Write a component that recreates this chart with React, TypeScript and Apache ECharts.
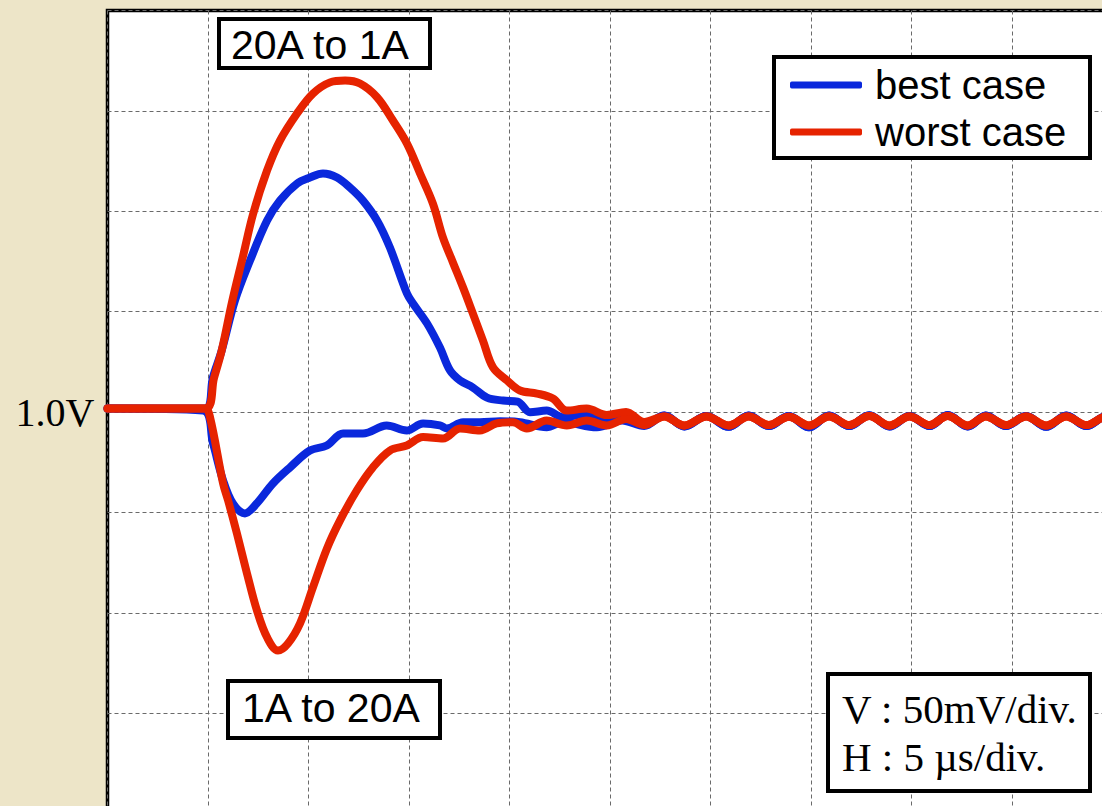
import React, { useEffect, useRef } from "react";
import * as echarts from "echarts";

// Axis ranges (time in µs, voltage in V)
const timeMin = 0;
const timeMax = 50;
const timeStep = 5; // 5 µs/div
const voltMin = 0.8;
const voltMax = 1.2;
const voltStep = 0.05; // 50 mV/div

const seriesNames = ["best case", "worst case"];

// best case, 20A -> 1A (overshoot)
const bestUpT = [0, 4.85, 5.25, 5.68, 6.34, 7.09, 7.94, 8.58, 9.43, 10.07, 10.72, 11.42, 12.06, 12.71, 13.41, 14.05, 14.9, 15.2, 15.9, 16.54, 17.04, 17.54, 18.18, 18.88, 19.68, 20.4, 21.02, 21.85, 22.66, 23.8, 24.84, 25.8, 26.7];
const bestUpV = [1.0017, 1.0017, 1.0175, 1.0306, 1.0555, 1.0754, 1.0954, 1.1053, 1.1138, 1.1168, 1.1188, 1.1168, 1.1118, 1.1053, 1.0954, 1.0819, 1.059, 1.054, 1.0441, 1.0321, 1.0207, 1.0157, 1.0122, 1.0072, 1.0057, 1.0052, 0.9999, 1.0007, 0.9974, 0.999, 0.995, 0.9985, 0.9935];

// best case, 1A -> 20A (undershoot)
const bestDownT = [0, 4.75, 5.25, 5.75, 6.24, 6.84, 7.42, 8.23, 9.08, 10.07, 10.91, 11.72, 12.71, 13.89, 14.89, 15.7, 16.54, 16.88, 17.69, 18.53, 19.53, 20.52, 21.85, 22.66, 24.35, 25.6, 26.7];
const bestDownV = [1.0017, 1.0007, 0.9843, 0.9659, 0.9544, 0.9495, 0.9544, 0.9644, 0.9724, 0.9808, 0.9833, 0.9893, 0.9893, 0.9933, 0.9908, 0.9943, 0.9933, 0.9918, 0.9949, 0.9949, 0.9954, 0.9949, 0.9924, 0.9949, 0.9924, 0.9958, 0.993];

// worst case, 20A -> 1A (overshoot)
const worstUpT = [0, 4.85, 5.3, 5.68, 6.2, 6.74, 7.24, 7.94, 8.58, 9.43, 10.22, 11.07, 11.82, 12.56, 13.41, 14.2, 14.9, 15.55, 16.19, 16.69, 17.19, 17.69, 18.18, 18.68, 19.18, 19.88, 20.52, 21.37, 22.16, 22.85, 23.84, 24.84, 25.8, 26.7];
const worstUpV = [1.0017, 1.0017, 1.017, 1.0306, 1.055, 1.0775, 1.0985, 1.1203, 1.1352, 1.1487, 1.1586, 1.1642, 1.1651, 1.1636, 1.1568, 1.1452, 1.1337, 1.1188, 1.1038, 1.0869, 1.0744, 1.062, 1.049, 1.0356, 1.0222, 1.0157, 1.0107, 1.0092, 1.0067, 1.0007, 1.0017, 0.9985, 1.0, 0.995];

// worst case, 1A -> 20A (undershoot)
const worstDownT = [0, 4.85, 5.1, 5.75, 6.0, 6.44, 6.94, 7.44, 7.94, 8.48, 8.98, 9.58, 10.22, 10.92, 11.57, 12.4, 13.21, 14.05, 14.89, 15.7, 16.69, 17.54, 18.53, 19.36, 20.17, 20.86, 21.85, 22.85, 23.84, 24.84, 25.8, 26.7];
const worstDownV = [1.0017, 1.0017, 0.9974, 0.9644, 0.9559, 0.9395, 0.9196, 0.901, 0.8877, 0.8812, 0.8847, 0.8947, 0.9126, 0.932, 0.946, 0.9609, 0.9725, 0.9808, 0.9833, 0.9875, 0.9868, 0.9918, 0.9908, 0.9943, 0.9949, 0.9918, 0.9958, 0.9933, 0.9958, 0.9933, 0.9965, 0.9935];

// settled ringing, shared by both transients of each case
const settledT = [27.7, 28.7, 29.8, 30.9, 31.9, 32.9, 33.9, 34.9, 35.9, 36.9, 37.9, 38.9, 39.9, 40.9, 41.8, 42.8, 43.7, 44.7, 45.7, 46.7, 47.7, 48.7, 49.7, 50.6];
const settledWorstV = [0.9978, 0.9933, 0.9978, 0.9933, 0.9978, 0.9935, 0.9976, 0.9933, 0.9978, 0.9935, 0.998, 0.9933, 0.9978, 0.9935, 0.998, 0.9933, 0.9978, 0.9935, 0.9978, 0.9933, 0.9978, 0.9935, 0.9978, 0.9935];
const settledBestV = [0.9982, 0.9928, 0.998, 0.9926, 0.9982, 0.993, 0.998, 0.9924, 0.9982, 0.993, 0.9984, 0.9928, 0.998, 0.993, 0.9985, 0.9928, 0.9982, 0.993, 0.998, 0.9926, 0.9982, 0.993, 0.998, 0.993];

const BLUE = "#0A28DC";
const RED = "#E62300";
const SANS = '"Liberation Sans", Arial, sans-serif';
const SERIF = '"Liberation Serif", "Times New Roman", serif';

function pairs(t: number[], v: number[]): number[][] {
  return t.map((x, i) => [x, v[i]]);
}

export default function App() {
  const ref = useRef<HTMLDivElement>(null);
  useEffect(() => {
    if (!ref.current) return;
    const chart = echarts.init(ref.current, undefined, { renderer: "svg" });
    const lineSeries = (name: string, color: string, t: number[], v: number[], st: number[], sv: number[]) => ({
      type: "line",
      name,
      data: pairs(t.concat(st), v.concat(sv)),
      symbol: "none",
      smooth: 0.35,
      lineStyle: { color, width: 8, cap: "round", join: "round" },
      itemStyle: { color },
      z: color === RED ? 3 : 2,
    });
    chart.setOption({
      animation: false,
      backgroundColor: "#EDE5C8",
      grid: {
        left: 107.5,
        top: 10.5,
        width: 1005,
        height: 803,
        show: true,
        backgroundColor: "#ffffff",
        borderColor: "#000000",
        borderWidth: 3.5,
      },
      xAxis: {
        type: "value",
        min: timeMin,
        max: timeMax,
        interval: timeStep,
        axisLine: { show: false },
        axisTick: { show: false },
        axisLabel: { show: false },
        splitLine: { show: true, lineStyle: { color: "#6a6a6a", width: 1, type: [4, 3] } },
      },
      yAxis: {
        type: "value",
        min: voltMin,
        max: voltMax,
        interval: voltStep,
        axisLine: { show: false },
        axisTick: { show: false },
        axisLabel: {
          show: true,
          margin: 13,
          color: "#000",
          fontFamily: SERIF,
          fontSize: 40,
          formatter: (val: number) => (Math.abs(val - 1) < 1e-6 ? "1.0V" : ""),
        },
        splitLine: { show: true, lineStyle: { color: "#6a6a6a", width: 1, type: [4, 3] } },
      },
      legend: {
        data: seriesNames,
        orient: "vertical",
        left: 790,
        top: 65,
        padding: 0,
        itemGap: 7,
        itemWidth: 72,
        itemHeight: 7,
        icon: "roundRect",
        z: 12,
        textStyle: { fontFamily: SANS, fontSize: 40, color: "#000", padding: [0, 0, 0, 8] },
      },
      graphic: [
        { type: "rect", z: 10, shape: { x: 774, y: 57, width: 316, height: 101 }, style: { fill: "#fff", stroke: "#000", lineWidth: 4 } },
        { type: "rect", z: 10, shape: { x: 219, y: 19, width: 211, height: 49 }, style: { fill: "#fff", stroke: "#000", lineWidth: 4 } },
        { type: "text", z: 11, x: 231, y: 45, style: { text: "20A to 1A", font: `41px ${SANS}`, fill: "#000", align: "left", verticalAlign: "middle" } },
        { type: "rect", z: 10, shape: { x: 228, y: 681, width: 212, height: 57 }, style: { fill: "#fff", stroke: "#000", lineWidth: 4 } },
        { type: "text", z: 11, x: 242, y: 708, style: { text: "1A to 20A", font: `41px ${SANS}`, fill: "#000", align: "left", verticalAlign: "middle" } },
        { type: "rect", z: 10, shape: { x: 828, y: 674, width: 262, height: 117 }, style: { fill: "#fff", stroke: "#000", lineWidth: 4 } },
        { type: "text", z: 11, x: 842, y: 709, style: { text: "V : 50mV/div.", font: `41px ${SERIF}`, fill: "#000", align: "left", verticalAlign: "middle" } },
        { type: "text", z: 11, x: 842, y: 757, style: { text: "H : 5 µs/div.", font: `41px ${SERIF}`, fill: "#000", align: "left", verticalAlign: "middle" } },
      ],
      series: [
        lineSeries(seriesNames[0], BLUE, bestUpT, bestUpV, settledT, settledBestV),
        lineSeries(seriesNames[0], BLUE, bestDownT, bestDownV, settledT, settledBestV),
        lineSeries(seriesNames[1], RED, worstUpT, worstUpV, settledT, settledWorstV),
        lineSeries(seriesNames[1], RED, worstDownT, worstDownV, settledT, settledWorstV),
      ],
    });
    return () => chart.dispose();
  }, []);
  return <div ref={ref} style={{ position: "fixed", left: 0, top: 0, width: 1130, height: 830 }} />;
}
